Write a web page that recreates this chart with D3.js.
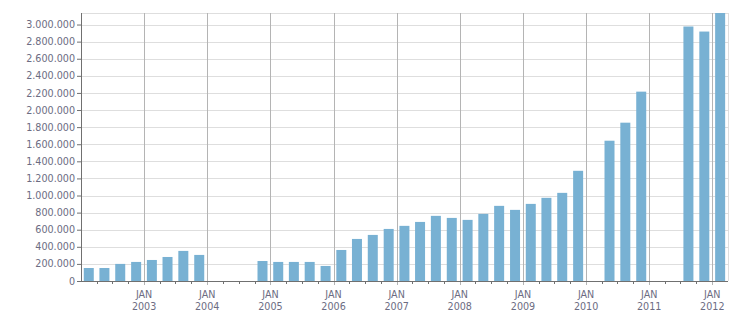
<!DOCTYPE html>
<html>
<head>
<meta charset="utf-8">
<script src="https://cdn.jsdelivr.net/npm/d3@7"></script>
<style>
  body { margin: 0; background: #fff; }
  svg text { font-family: "DejaVu Sans", Verdana, sans-serif; font-size: 9.6px; fill: #6c6c82; }
</style>
</head>
<body>
<div id="container"></div>
<script>
// quarterly values, null where there is no bar
const quarters = [
  '2002-01','2002-04','2002-07','2002-10',
  '2003-01','2003-04','2003-07','2003-10',
  '2004-01','2004-04','2004-07','2004-10',
  '2005-01','2005-04','2005-07','2005-10',
  '2006-01','2006-04','2006-07','2006-10',
  '2007-01','2007-04','2007-07','2007-10',
  '2008-01','2008-04','2008-07','2008-10',
  '2009-01','2009-04','2009-07','2009-10',
  '2010-01','2010-04','2010-07','2010-10',
  '2011-01','2011-04','2011-07','2011-10',
  '2012-01'
];
const values = [
  152000, 152000, 200000, 223000,
  246000, 281000, 352000, 305000,
  null, null, null, 234000,
  223000, 223000, 223000, 176000,
  363000, 492000, 539000, 609000,
  645000, 691000, 762000, 738000,
  715000, 785000, 879000, 832000,
  902000, 973000, 1031000, 1289000,
  null, 1641000, 1852000, 2215000,
  null, null, 2977000, 2918000,
  3135000
];
const yTicks = d3.range(0, 3000001, 200000);
const yearTicks = d3.range(2003, 2013);

const WIDTH = 751, HEIGHT = 313;
const MARGIN = { TOP: 13, BOTTOM: 32, LEFT: 81, RIGHT: 23 };
const width = WIDTH - MARGIN.LEFT - MARGIN.RIGHT;
const height = HEIGHT - MARGIN.TOP - MARGIN.BOTTOM;

const parse = d3.timeParse('%Y-%m');
const data = quarters.map((q, i) => ({ date: parse(q), value: values[i] }));

const svg = d3.select('#container').append('svg')
  .attr('width', WIDTH).attr('height', HEIGHT);
const g = svg.append('g').attr('transform', `translate(${MARGIN.LEFT},${MARGIN.TOP})`);

const x = d3.scaleTime()
  .domain([parse('2002-01'), d3.timeMonth.offset(parse('2012-01'), 3)])
  .range([0, width]);
const y = d3.scaleLinear()
  .domain([0, d3.max(values)])
  .range([height, 0]);

const fmt = d3.formatLocale({ decimal: ',', thousands: '.', grouping: [3], currency: ['', ''] }).format(',');

// horizontal grid
g.append('g').selectAll('line')
  .data(yTicks.concat([y.domain()[1]]))
  .join('line')
    .attr('x1', 0).attr('x2', width)
    .attr('y1', d => Math.round(y(d)) + 0.5).attr('y2', d => Math.round(y(d)) + 0.5)
    .attr('stroke', '#dedede');

// right border
g.append('line')
  .attr('x1', width + 0.5).attr('x2', width + 0.5)
  .attr('y1', 0).attr('y2', height)
  .attr('stroke', '#dedede');

// vertical year lines
g.append('g').selectAll('line')
  .data(yearTicks)
  .join('line')
    .attr('x1', d => Math.round(x(new Date(d, 0, 1))) + 0.5)
    .attr('x2', d => Math.round(x(new Date(d, 0, 1))) + 0.5)
    .attr('y1', 0).attr('y2', height + 4)
    .attr('stroke', '#b4b4b4');

// bars
const barW = 10;
g.append('g').selectAll('rect')
  .data(data.filter(d => d.value != null))
  .join('rect')
    .attr('x', d => (x(d.date) + x(d3.timeMonth.offset(d.date, 3))) / 2 - barW / 2)
    .attr('width', barW)
    .attr('y', d => y(d.value))
    .attr('height', d => height - y(d.value))
    .attr('fill', '#78b1d3');

// y axis
const yAxis = g.append('g')
  .call(d3.axisLeft(y).tickValues(yTicks).tickSize(4).tickPadding(2).tickFormat(fmt));
yAxis.select('.domain').remove();
yAxis.selectAll('.tick line').attr('stroke', '#707070');
yAxis.selectAll('text').attr('font-family', null).attr('font-size', null);
g.append('line')
  .attr('x1', 0.5).attr('x2', 0.5).attr('y1', 0).attr('y2', height)
  .attr('stroke', '#707070');

// x axis
g.append('line')
  .attr('x1', 0).attr('x2', width)
  .attr('y1', height + 0.5).attr('y2', height + 0.5)
  .attr('stroke', '#707070');

g.append('g').selectAll('line')
  .data(data.filter(d => d.date.getMonth() !== 0))
  .join('line')
    .attr('x1', d => Math.round(x(d.date)) + 0.5)
    .attr('x2', d => Math.round(x(d.date)) + 0.5)
    .attr('y1', height + 1).attr('y2', height + 3)
    .attr('stroke', '#707070');

const labels = g.append('g').selectAll('g')
  .data(yearTicks)
  .join('g')
    .attr('transform', d => `translate(${x(new Date(d, 0, 1))},${height})`);
labels.append('text')
  .attr('text-anchor', 'middle').attr('y', 17)
  .text('JAN');
labels.append('text')
  .attr('text-anchor', 'middle').attr('y', 29)
  .text(d => d);
</script>
</body>
</html>
